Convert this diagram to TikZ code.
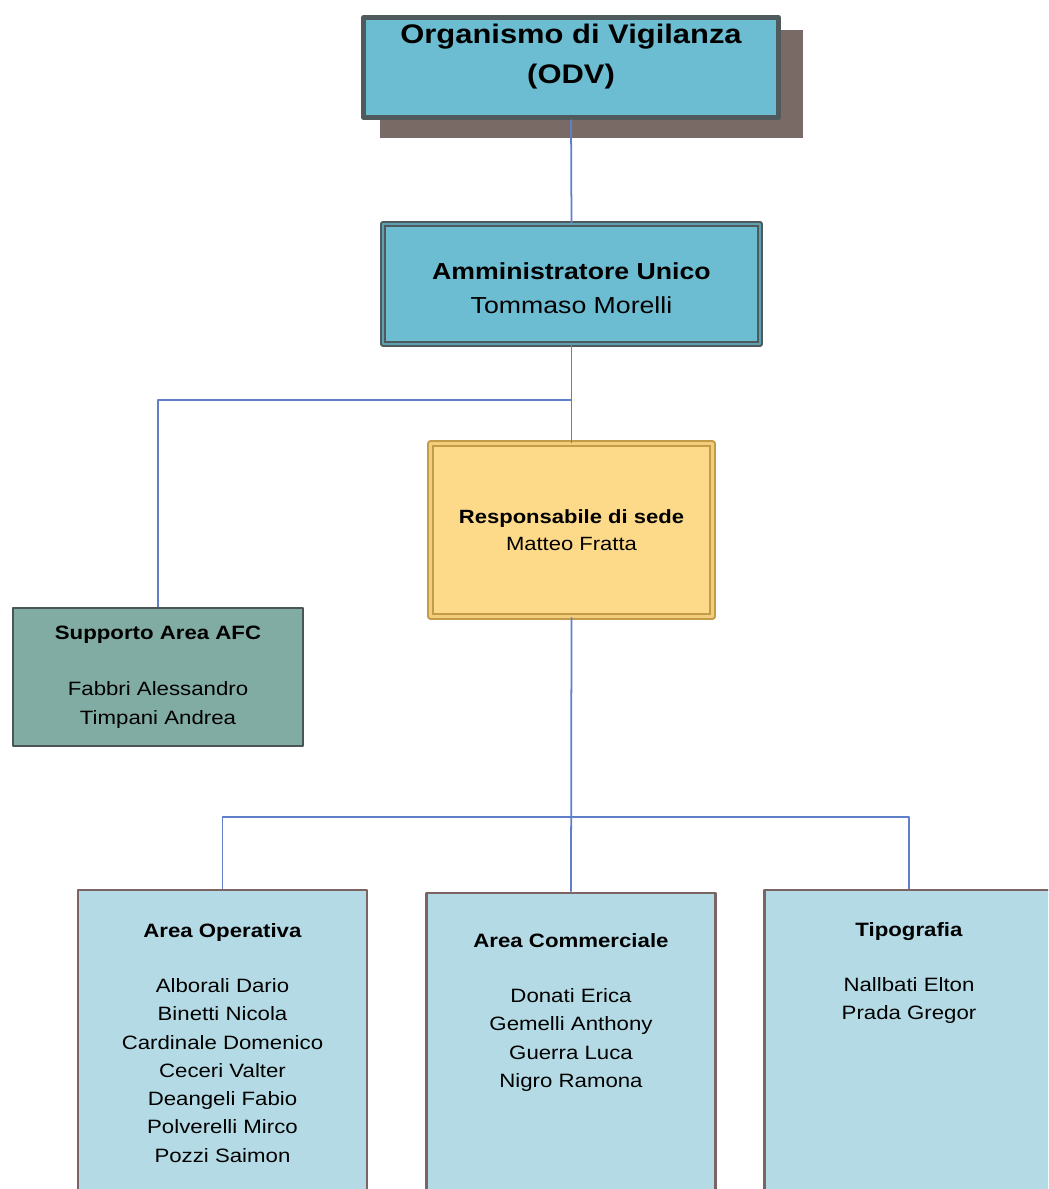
\documentclass[tikz,border=0pt]{standalone}
\usepackage{fontspec}
\setmainfont{Liberation Sans}[FakeStretch=1.15]
\definecolor{odvblue}{RGB}{108,189,210}
\definecolor{odvline}{RGB}{80,90,92}
\definecolor{shadowbrown}{RGB}{122,106,102}
\definecolor{respfill}{RGB}{253,218,137}
\definecolor{respline}{RGB}{196,156,72}
\definecolor{suppfill}{RGB}{128,172,163}
\definecolor{suppline}{RGB}{75,85,85}
\definecolor{areafill}{RGB}{180,219,229}
\definecolor{arealine}{RGB}{125,100,100}
\definecolor{linkblue}{RGB}{95,128,200}
\newcommand{\bigfont}{\fontsize{15.3pt}{22.7pt}\selectfont\bfseries}
\newcommand{\midfont}{\fontsize{13.2pt}{19.3pt}\selectfont}
\newcommand{\smallfont}{\fontsize{10.9pt}{15.3pt}\selectfont}
\newcommand{\listfont}{\fontsize{11pt}{16.1pt}\selectfont}
\begin{document}
\begin{tikzpicture}[x=0.02cm, y=-0.02cm, line join=round,
	box/.style={rectangle, align=center, inner sep=0pt},
	area/.style={box, fill=areafill, draw=arealine, line width=1.5pt, minimum width=5.78cm, minimum height=6.2cm},
	list/.style={anchor=north, align=center, inner sep=0pt, font=\listfont},
	link/.style={draw=linkblue, line width=1pt}]
		\clip (0,0) rectangle (1048,1189);
		% top boxes
		\fill[shadowbrown] (380,30) rectangle (803,138);
		\node[box, fill=odvblue, draw=odvline, line width=2.5pt, minimum width=8.3cm, minimum height=2cm] (odv) at (571,67.5) {};
		\node[box, anchor=north, font=\bigfont] (odvT) at (571,24) {Organismo di Vigilanza\\(ODV)};
		\node[box, fill=odvblue, draw=odvline, line width=1pt, double=odvblue!85!black, double distance=1.6pt,
			minimum width=7.54cm, minimum height=2.4cm, font=\midfont] (amm) at (571.5,284) {};
		\node[box, font=\midfont] (ammT) at (571.5,288) {\textbf{Amministratore Unico}\\Tommaso Morelli};
		\node[box, fill=respfill, draw=respline, line width=1pt, double=respfill!80!respline, double distance=1.6pt,
			minimum width=5.64cm, minimum height=3.46cm, font=\smallfont] (resp) at (571.5,530)
			{\textbf{Responsabile di sede}\\Matteo Fratta};
		\node[box, fill=suppfill, draw=suppline, line width=1.2pt, minimum width=5.8cm, minimum height=2.76cm,
			font=\listfont] (supp) at (158,677)
			{\textbf{Supporto Area AFC}\\[15.9pt]Fabbri Alessandro\\Timpani Andrea};
		% bottom row
		\node[area] (oper) at (222.5,1045) {};
		\node[area] (comm) at (571,1048) {};
		\node[area] (tipo) at (909,1045) {};
		\node[list] (operT) at (222.5,923) {\textbf{Area Operativa}\\[15.3pt]Alborali Dario\\Binetti Nicola\\Cardinale Domenico\\Ceceri Valter\\Deangeli Fabio\\Polverelli Mirco\\Pozzi Saimon};
		\node[list] (commT) at (571,933) {\textbf{Area Commerciale}\\[15.3pt]Donati Erica\\Gemelli Anthony\\Guerra Luca\\Nigro Ramona};
		\node[list] (tipoT) at (909,922) {\textbf{Tipografia}\\[15.3pt]Nallbati Elton\\Prada Gregor};
		% connectors
		\coordinate (fork1) at (571,400);
		\coordinate (fork2) at (571,817);
		\draw[link] (odv.south) -- (amm.north);
		\draw[link] (amm.south) -- (resp.north);
		\draw[link] (fork1) -| (supp.north);
		\draw[link] (resp.south) -- (comm.north);
		\foreach \b in {oper,tipo}
		\draw[link] (fork2) -| (\b.north);
\end{tikzpicture}
\end{document}
